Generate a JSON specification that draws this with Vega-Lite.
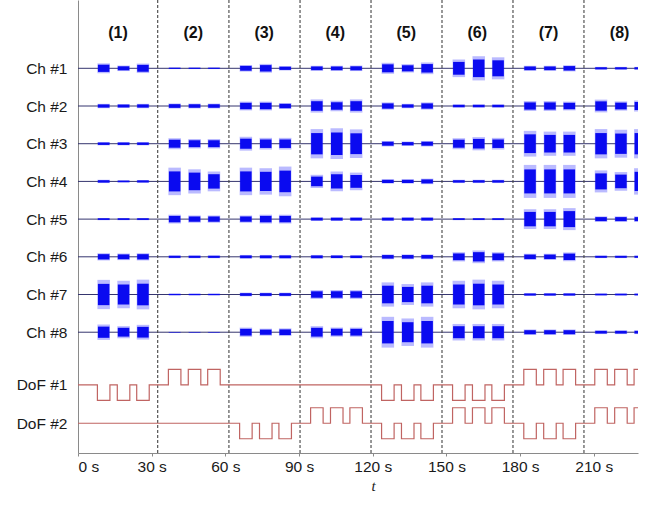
{
  "$schema": "https://vega.github.io/schema/vega-lite/v6.json",
  "width": 560,
  "height": 453,
  "autosize": {"type": "none"},
  "padding": {"left": 78, "top": 0, "right": 17, "bottom": 52},
  "background": "white",
  "config": {
    "view": {"stroke": null},
    "font": "Liberation Sans"
  },
  "datasets": {
    "bounds": [{"t": 32.45}, {"t": 61.45}, {"t": 90.4}, {"t": 119.3}, {"t": 148.2}, {"t": 177.1}, {"t": 206.0}],
    "segs": [
      {"s": "(1)", "t": 16.3}, {"s": "(2)", "t": 46.9}, {"s": "(3)", "t": 75.8}, {"s": "(4)", "t": 104.75},
      {"s": "(5)", "t": 133.65}, {"s": "(6)", "t": 162.55}, {"s": "(7)", "t": 191.55}, {"s": "(8)", "t": 220.5}
    ],
    "chans": [{"c": 1}, {"c": 2}, {"c": 3}, {"c": 4}, {"c": 5}, {"c": 6}, {"c": 7}, {"c": 8}],
    "emg": [
      {"c":1,"t":10.45,"a":9},{"c":1,"t":18.55,"a":5},{"c":1,"t":26.45,"a":8.6},
      {"c":1,"t":39.35,"a":1.4},{"c":1,"t":47.45,"a":1.4},{"c":1,"t":55.35,"a":1.4},
      {"c":1,"t":68.35,"a":6},{"c":1,"t":76.45,"a":8},{"c":1,"t":84.35,"a":4},
      {"c":1,"t":97.25,"a":4.6},{"c":1,"t":105.35,"a":4.6},{"c":1,"t":113.25,"a":5},
      {"c":1,"t":126.15,"a":10},{"c":1,"t":134.25,"a":7.6},{"c":1,"t":142.15,"a":10.6},
      {"c":1,"t":155.05,"a":16},{"c":1,"t":163.15,"a":22},{"c":1,"t":171.05,"a":20},
      {"c":1,"t":184.05,"a":4.6},{"c":1,"t":192.15,"a":4.6},{"c":1,"t":200.05,"a":5.6},
      {"c":1,"t":212.95,"a":2.6},{"c":1,"t":221.05,"a":2.6},{"c":1,"t":228.95,"a":2.6},

      {"c":2,"t":10.45,"a":4},{"c":2,"t":18.55,"a":3.6},{"c":2,"t":26.45,"a":4},
      {"c":2,"t":39.35,"a":4.6},{"c":2,"t":47.45,"a":4.4},{"c":2,"t":55.35,"a":4.4},
      {"c":2,"t":68.35,"a":8},{"c":2,"t":76.45,"a":8},{"c":2,"t":84.35,"a":5.4},
      {"c":2,"t":97.25,"a":12},{"c":2,"t":105.35,"a":9.4},{"c":2,"t":113.25,"a":12},
      {"c":2,"t":126.15,"a":6.6},{"c":2,"t":134.25,"a":4},{"c":2,"t":142.15,"a":6.6},
      {"c":2,"t":155.05,"a":3},{"c":2,"t":163.15,"a":3},{"c":2,"t":171.05,"a":3},
      {"c":2,"t":184.05,"a":9},{"c":2,"t":192.15,"a":9},{"c":2,"t":200.05,"a":8},
      {"c":2,"t":212.95,"a":11.6},{"c":2,"t":221.05,"a":8.4},{"c":2,"t":228.95,"a":10},

      {"c":3,"t":10.45,"a":3},{"c":3,"t":18.55,"a":3},{"c":3,"t":26.45,"a":3},
      {"c":3,"t":39.35,"a":10},{"c":3,"t":47.45,"a":8.6},{"c":3,"t":55.35,"a":8.6},
      {"c":3,"t":68.35,"a":12.6},{"c":3,"t":76.45,"a":10.6},{"c":3,"t":84.35,"a":10.6},
      {"c":3,"t":97.25,"a":26.6},{"c":3,"t":105.35,"a":28},{"c":3,"t":113.25,"a":26},
      {"c":3,"t":126.15,"a":5},{"c":3,"t":134.25,"a":4},{"c":3,"t":142.15,"a":5},
      {"c":3,"t":155.05,"a":10},{"c":3,"t":163.15,"a":12},{"c":3,"t":171.05,"a":10.6},
      {"c":3,"t":184.05,"a":23.4},{"c":3,"t":192.15,"a":22},{"c":3,"t":200.05,"a":22},
      {"c":3,"t":212.95,"a":26.6},{"c":3,"t":221.05,"a":25.4},{"c":3,"t":228.95,"a":26.6},

      {"c":4,"t":10.45,"a":3},{"c":4,"t":18.55,"a":2},{"c":4,"t":26.45,"a":2.6},
      {"c":4,"t":39.35,"a":25},{"c":4,"t":47.45,"a":22},{"c":4,"t":55.35,"a":18},
      {"c":4,"t":68.35,"a":25},{"c":4,"t":76.45,"a":24},{"c":4,"t":84.35,"a":27},
      {"c":4,"t":97.25,"a":12},{"c":4,"t":105.35,"a":18},{"c":4,"t":113.25,"a":16},
      {"c":4,"t":126.15,"a":4},{"c":4,"t":134.25,"a":4},{"c":4,"t":142.15,"a":5},
      {"c":4,"t":155.05,"a":3},{"c":4,"t":163.15,"a":3},{"c":4,"t":171.05,"a":3},
      {"c":4,"t":184.05,"a":30},{"c":4,"t":192.15,"a":30},{"c":4,"t":200.05,"a":30},
      {"c":4,"t":212.95,"a":20},{"c":4,"t":221.05,"a":17},{"c":4,"t":228.95,"a":24},

      {"c":5,"t":10.45,"a":2},{"c":5,"t":18.55,"a":2},{"c":5,"t":26.45,"a":2},
      {"c":5,"t":39.35,"a":8},{"c":5,"t":47.45,"a":6.6},{"c":5,"t":55.35,"a":6.6},
      {"c":5,"t":68.35,"a":6.6},{"c":5,"t":76.45,"a":8},{"c":5,"t":84.35,"a":8},
      {"c":5,"t":97.25,"a":3.4},{"c":5,"t":105.35,"a":3.4},{"c":5,"t":113.25,"a":3.4},
      {"c":5,"t":126.15,"a":3.4},{"c":5,"t":134.25,"a":3.4},{"c":5,"t":142.15,"a":3.4},
      {"c":5,"t":155.05,"a":2},{"c":5,"t":163.15,"a":2},{"c":5,"t":171.05,"a":2},
      {"c":5,"t":184.05,"a":18},{"c":5,"t":192.15,"a":18},{"c":5,"t":200.05,"a":20},
      {"c":5,"t":212.95,"a":5},{"c":5,"t":221.05,"a":5},{"c":5,"t":228.95,"a":5},

      {"c":6,"t":10.45,"a":6.6},{"c":6,"t":18.55,"a":6},{"c":6,"t":26.45,"a":6.6},
      {"c":6,"t":39.35,"a":2.6},{"c":6,"t":47.45,"a":2.6},{"c":6,"t":55.35,"a":2.6},
      {"c":6,"t":68.35,"a":3.4},{"c":6,"t":76.45,"a":3.4},{"c":6,"t":84.35,"a":3.4},
      {"c":6,"t":97.25,"a":3.4},{"c":6,"t":105.35,"a":3},{"c":6,"t":113.25,"a":3},
      {"c":6,"t":126.15,"a":4.4},{"c":6,"t":134.25,"a":4.4},{"c":6,"t":142.15,"a":4.4},
      {"c":6,"t":155.05,"a":8.4},{"c":6,"t":163.15,"a":11.6},{"c":6,"t":171.05,"a":8.4},
      {"c":6,"t":184.05,"a":5.6},{"c":6,"t":192.15,"a":5.6},{"c":6,"t":200.05,"a":8},
      {"c":6,"t":212.95,"a":2.4},{"c":6,"t":221.05,"a":2.4},{"c":6,"t":228.95,"a":2.4},

      {"c":7,"t":10.45,"a":26.6},{"c":7,"t":18.55,"a":25},{"c":7,"t":26.45,"a":27},
      {"c":7,"t":39.35,"a":1.6},{"c":7,"t":47.45,"a":1.6},{"c":7,"t":55.35,"a":1.6},
      {"c":7,"t":68.35,"a":3.4},{"c":7,"t":76.45,"a":3.4},{"c":7,"t":84.35,"a":3.4},
      {"c":7,"t":97.25,"a":8},{"c":7,"t":105.35,"a":8},{"c":7,"t":113.25,"a":8},
      {"c":7,"t":126.15,"a":22},{"c":7,"t":134.25,"a":19},{"c":7,"t":142.15,"a":22},
      {"c":7,"t":155.05,"a":25},{"c":7,"t":163.15,"a":27},{"c":7,"t":171.05,"a":25},
      {"c":7,"t":184.05,"a":2.6},{"c":7,"t":192.15,"a":2.6},{"c":7,"t":200.05,"a":2.6},
      {"c":7,"t":212.95,"a":2},{"c":7,"t":221.05,"a":2},{"c":7,"t":228.95,"a":2},

      {"c":8,"t":10.45,"a":14},{"c":8,"t":18.55,"a":11},{"c":8,"t":26.45,"a":13.4},
      {"c":8,"t":39.35,"a":0.6},{"c":8,"t":47.45,"a":0.6},{"c":8,"t":55.35,"a":0.6},
      {"c":8,"t":68.35,"a":8.4},{"c":8,"t":76.45,"a":6.4},{"c":8,"t":84.35,"a":7},
      {"c":8,"t":97.25,"a":11},{"c":8,"t":105.35,"a":8.4},{"c":8,"t":113.25,"a":8.4},
      {"c":8,"t":126.15,"a":28},{"c":8,"t":134.25,"a":25},{"c":8,"t":142.15,"a":28},
      {"c":8,"t":155.05,"a":15},{"c":8,"t":163.15,"a":15},{"c":8,"t":171.05,"a":15},
      {"c":8,"t":184.05,"a":5},{"c":8,"t":192.15,"a":5},{"c":8,"t":200.05,"a":5},
      {"c":8,"t":212.95,"a":3.4},{"c":8,"t":221.05,"a":3.4},{"c":8,"t":228.95,"a":3.4}
    ],
    "dof": [
      {"d":1,"t":0,"v":0},{"d":1,"t":7.9,"v":-1},{"d":1,"t":13.0,"v":0},{"d":1,"t":16.0,"v":-1},{"d":1,"t":21.1,"v":0},{"d":1,"t":23.9,"v":-1},{"d":1,"t":29.0,"v":0},
      {"d":1,"t":36.8,"v":1},{"d":1,"t":41.9,"v":0},{"d":1,"t":44.9,"v":1},{"d":1,"t":50.0,"v":0},{"d":1,"t":52.8,"v":1},{"d":1,"t":57.9,"v":0},
      {"d":1,"t":123.6,"v":-1},{"d":1,"t":128.7,"v":0},{"d":1,"t":131.7,"v":-1},{"d":1,"t":136.8,"v":0},{"d":1,"t":139.6,"v":-1},{"d":1,"t":144.7,"v":0},
      {"d":1,"t":152.5,"v":-1},{"d":1,"t":157.6,"v":0},{"d":1,"t":160.6,"v":-1},{"d":1,"t":165.7,"v":0},{"d":1,"t":168.5,"v":-1},{"d":1,"t":173.6,"v":0},
      {"d":1,"t":181.5,"v":1},{"d":1,"t":186.6,"v":0},{"d":1,"t":189.6,"v":1},{"d":1,"t":194.7,"v":0},{"d":1,"t":197.5,"v":1},{"d":1,"t":202.6,"v":0},
      {"d":1,"t":210.4,"v":1},{"d":1,"t":215.5,"v":0},{"d":1,"t":218.5,"v":1},{"d":1,"t":223.6,"v":0},{"d":1,"t":226.4,"v":1},{"d":1,"t":228,"v":1},

      {"d":2,"t":0,"v":0},
      {"d":2,"t":65.8,"v":-1},{"d":2,"t":70.9,"v":0},{"d":2,"t":73.9,"v":-1},{"d":2,"t":79.0,"v":0},{"d":2,"t":81.8,"v":-1},{"d":2,"t":86.9,"v":0},
      {"d":2,"t":94.7,"v":1},{"d":2,"t":99.8,"v":0},{"d":2,"t":102.8,"v":1},{"d":2,"t":107.9,"v":0},{"d":2,"t":110.7,"v":1},{"d":2,"t":115.8,"v":0},
      {"d":2,"t":123.6,"v":-1},{"d":2,"t":128.7,"v":0},{"d":2,"t":131.7,"v":-1},{"d":2,"t":136.8,"v":0},{"d":2,"t":139.6,"v":-1},{"d":2,"t":144.7,"v":0},
      {"d":2,"t":152.5,"v":1},{"d":2,"t":157.6,"v":0},{"d":2,"t":160.6,"v":1},{"d":2,"t":165.7,"v":0},{"d":2,"t":168.5,"v":1},{"d":2,"t":173.6,"v":0},
      {"d":2,"t":181.5,"v":-1},{"d":2,"t":186.6,"v":0},{"d":2,"t":189.6,"v":-1},{"d":2,"t":194.7,"v":0},{"d":2,"t":197.5,"v":-1},{"d":2,"t":202.6,"v":0},
      {"d":2,"t":210.4,"v":1},{"d":2,"t":215.5,"v":0},{"d":2,"t":218.5,"v":1},{"d":2,"t":223.6,"v":0},{"d":2,"t":226.4,"v":1},{"d":2,"t":228,"v":1}
    ]
  },
  "resolve": {"scale": {"y": "independent", "size": "independent"}, "axis": {"y": "independent"}},
  "layer": [
    {
      "data": {"name": "chans"},
      "mark": {"type": "rule", "color": "#35356e", "strokeWidth": 1},
      "encoding": {
        "y": {
          "field": "c", "type": "quantitative",
          "scale": {"domain": [-0.812, 11.204], "reverse": true, "zero": false, "nice": false},
          "axis": {
            "values": [1, 2, 3, 4, 5, 6, 7, 8, 9.4, 10.416],
            "labelExpr": "datum.value <= 8 ? 'Ch #' + datum.value : (datum.value < 10 ? 'DoF #1' : 'DoF #2')",
            "title": null, "ticks": false, "grid": false, "labelPadding": 11,
            "domainColor": "#8a8a8a", "domainWidth": 1,
            "labelFont": "Liberation Sans", "labelFontSize": 15.5, "labelColor": "#1a1a1a"
          }
        }
      }
    },
    {
      "data": {"name": "bounds"},
      "mark": {"type": "rule", "color": "#444", "strokeDash": [3, 2], "strokeWidth": 1.1},
      "encoding": {
        "x": {
          "field": "t", "type": "quantitative",
          "scale": {"domain": [0, 228], "nice": false, "zero": false},
          "axis": {
            "values": [0, 30, 60, 90, 120, 150, 180, 210],
            "labelExpr": "datum.value + ' s'",
            "grid": false, "tickSize": 3, "labelPadding": 3,
            "domainColor": "#8a8a8a", "tickColor": "#8a8a8a",
            "labelFont": "Liberation Sans", "labelFontSize": 15.5, "labelColor": "#1a1a1a",
            "title": "t", "titleFont": "Liberation Serif", "titleFontStyle": "italic",
            "titleFontWeight": "normal", "titleFontSize": 15, "titleColor": "#222",
            "titleX": 295, "titleAlign": "center", "titlePadding": 4
          }
        }
      }
    },
    {
      "data": {"name": "emg"},
      "mark": {"type": "tick", "orient": "vertical", "thickness": 12.5, "color": "#1a1aff", "opacity": 0.3, "clip": true},
      "encoding": {
        "x": {"field": "t", "type": "quantitative", "scale": {"domain": [0, 228], "nice": false, "zero": false}},
        "y": {"field": "c", "type": "quantitative", "scale": {"domain": [-0.812, 11.204], "reverse": true, "zero": false, "nice": false}, "axis": null},
        "size": {"field": "a", "type": "quantitative", "scale": {"domain": [0, 30], "range": [0, 33]}, "legend": null}
      }
    },
    {
      "data": {"name": "emg"},
      "mark": {"type": "tick", "orient": "vertical", "thickness": 11.5, "color": "#0a0af0", "opacity": 1, "clip": true},
      "encoding": {
        "x": {"field": "t", "type": "quantitative", "scale": {"domain": [0, 228], "nice": false, "zero": false}},
        "y": {"field": "c", "type": "quantitative", "scale": {"domain": [-0.812, 11.204], "reverse": true, "zero": false, "nice": false}, "axis": null},
        "size": {"field": "a", "type": "quantitative", "scale": {"domain": [0, 30], "range": [0, 24]}, "legend": null}
      }
    },
    {
      "data": {"name": "dof"},
      "transform": [{"filter": "datum.d == 1"}],
      "mark": {"type": "line", "interpolate": "step-after", "color": "#c06462", "strokeWidth": 1.2, "clip": true},
      "encoding": {
        "x": {"field": "t", "type": "quantitative", "scale": {"domain": [0, 228], "nice": false, "zero": false}},
        "y": {"field": "v", "type": "quantitative", "scale": {"domain": [-4.39, 24.84], "zero": false, "nice": false}, "axis": null}
      }
    },
    {
      "data": {"name": "dof"},
      "transform": [{"filter": "datum.d == 2"}],
      "mark": {"type": "line", "interpolate": "step-after", "color": "#c06462", "strokeWidth": 1.2, "clip": true},
      "encoding": {
        "x": {"field": "t", "type": "quantitative", "scale": {"domain": [0, 228], "nice": false, "zero": false}},
        "y": {"field": "v", "type": "quantitative", "scale": {"domain": [-1.92, 27.31], "zero": false, "nice": false}, "axis": null}
      }
    },
    {
      "data": {"name": "segs"},
      "mark": {"type": "text", "font": "Liberation Sans", "fontWeight": "bold", "fontSize": 16, "color": "#111", "baseline": "middle", "align": "center"},
      "encoding": {
        "x": {"field": "t", "type": "quantitative", "scale": {"domain": [0, 228], "nice": false, "zero": false}},
        "y": {"datum": 0.06, "type": "quantitative", "scale": {"domain": [-0.812, 11.204], "reverse": true, "zero": false, "nice": false}, "axis": null},
        "text": {"field": "s"}
      }
    }
  ]
}
